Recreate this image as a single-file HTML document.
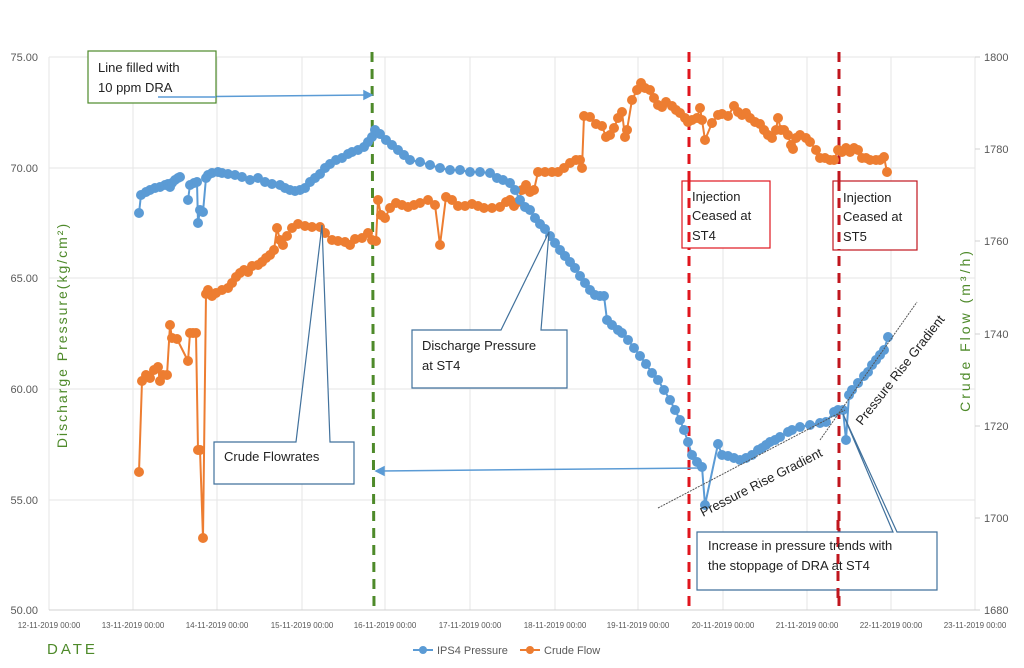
<!DOCTYPE html>
<html><head><meta charset="utf-8"><style>
body{margin:0;background:#fff;}
svg{display:block;font-family:"Liberation Sans",sans-serif;}
</style></head><body>
<svg width="1024" height="668" viewBox="0 0 1024 668">
<defs>
<marker id="mb" viewBox="0 0 10 10" refX="5" refY="5" markerWidth="10" markerHeight="10" markerUnits="userSpaceOnUse"><circle cx="5" cy="5" r="5" fill="#5b9bd5"/></marker>
<marker id="mo" viewBox="0 0 10 10" refX="5" refY="5" markerWidth="10" markerHeight="10" markerUnits="userSpaceOnUse"><circle cx="5" cy="5" r="5" fill="#ed7d31"/></marker>
</defs>
<g stroke="#e6e6e6" stroke-width="1">
<line x1="49" y1="57" x2="975" y2="57"/><line x1="49" y1="168" x2="975" y2="168"/><line x1="49" y1="278" x2="975" y2="278"/><line x1="49" y1="389" x2="975" y2="389"/><line x1="49" y1="500" x2="975" y2="500"/>
<line x1="49" y1="57" x2="49" y2="610"/><line x1="133" y1="57" x2="133" y2="610"/><line x1="217" y1="57" x2="217" y2="610"/><line x1="302" y1="57" x2="302" y2="610"/><line x1="385" y1="57" x2="385" y2="610"/><line x1="470" y1="57" x2="470" y2="610"/><line x1="555" y1="57" x2="555" y2="610"/><line x1="638" y1="57" x2="638" y2="610"/><line x1="723" y1="57" x2="723" y2="610"/><line x1="807" y1="57" x2="807" y2="610"/><line x1="891" y1="57" x2="891" y2="610"/><line x1="975" y1="57" x2="975" y2="610"/>
</g>
<line x1="49" y1="610" x2="975" y2="610" stroke="#d0d0d0"/>
<g stroke="#d0d0d0"><line x1="975" y1="57" x2="980" y2="57"/><line x1="975" y1="149" x2="980" y2="149"/><line x1="975" y1="241" x2="980" y2="241"/><line x1="975" y1="334" x2="980" y2="334"/><line x1="975" y1="426" x2="980" y2="426"/><line x1="975" y1="518" x2="980" y2="518"/><line x1="975" y1="610" x2="980" y2="610"/></g>
<g font-size="11" fill="#595959" text-anchor="end">
<text x="38" y="61">75.00</text><text x="38" y="172">70.00</text><text x="38" y="282">65.00</text><text x="38" y="393">60.00</text><text x="38" y="504">55.00</text><text x="38" y="614">50.00</text>
</g>
<g font-size="11" fill="#595959">
<text x="984" y="61">1800</text><text x="984" y="153">1780</text><text x="984" y="245">1760</text><text x="984" y="338">1740</text><text x="984" y="430">1720</text><text x="984" y="522">1700</text><text x="984" y="614">1680</text>
</g>
<g font-size="8" fill="#595959" text-anchor="middle">
<text x="49" y="628">12-11-2019 00:00</text><text x="133" y="628">13-11-2019 00:00</text><text x="217" y="628">14-11-2019 00:00</text><text x="302" y="628">15-11-2019 00:00</text><text x="385" y="628">16-11-2019 00:00</text><text x="470" y="628">17-11-2019 00:00</text><text x="555" y="628">18-11-2019 00:00</text><text x="638" y="628">19-11-2019 00:00</text><text x="723" y="628">20-11-2019 00:00</text><text x="807" y="628">21-11-2019 00:00</text><text x="891" y="628">22-11-2019 00:00</text><text x="975" y="628">23-11-2019 00:00</text>
</g>
<text x="47" y="654" font-size="15" fill="#4e8a2a" letter-spacing="3">DATE</text>
<text transform="translate(67,335) rotate(-90)" font-size="14" fill="#4e8a2a" text-anchor="middle" letter-spacing="2">Discharge Pressure(kg/cm²)</text>
<text transform="translate(970,330) rotate(-90)" font-size="14" fill="#4e8a2a" text-anchor="middle" letter-spacing="3">Crude Flow (m³/h)</text>
<line x1="372" y1="52" x2="374" y2="610" stroke="#4e8a2a" stroke-width="3" stroke-dasharray="10,7"/>
<line x1="689" y1="52" x2="689" y2="610" stroke="#e0161e" stroke-width="3" stroke-dasharray="10,7"/>
<line x1="839" y1="52" x2="839" y2="610" stroke="#c0161e" stroke-width="3" stroke-dasharray="10,7"/>
<polyline fill="none" stroke="#ed7d31" stroke-width="2" marker-start="url(#mo)" marker-mid="url(#mo)" marker-end="url(#mo)" points="139,472 142,381 146,375 150,378 154,370 158,367 160,381 163,375 167,375 170,325 172,338 177,339 188,361 190,333 193,333 196,333 198,450 200,450 203,538 206,294 208,290 212,296 216,293 222,290 228,288 232,283 236,277 240,273 244,270 248,272 252,266 258,265 262,262 266,258 270,255 274,250 277,228 280,240 283,245 287,236 292,228 298,224 305,226 312,227 320,227 325,233 332,240 338,241 345,242 350,245 355,239 362,238 368,233 372,240 376,241 378,200 381,215 385,218 390,208 396,203 402,205 408,207 414,205 420,203 428,200 435,205 440,245 446,197 452,200 458,206 465,206 472,204 478,206 484,208 492,208 500,207 506,202 510,200 514,206 518,202 522,190 526,185 530,192 534,190 538,172 545,172 552,172 558,172 564,168 570,163 576,160 580,160 582,168 584,116 590,117 596,124 602,126 606,137 610,135 614,128 618,118 622,112 625,137 627,130 632,100 637,90 641,83 645,88 650,90 654,98 658,105 662,107 666,102 672,106 676,110 680,113 685,118 688,122 692,120 697,118 700,108 702,120 705,140 712,123 718,115 722,114 728,116 734,106 738,112 742,115 746,113 750,118 755,122 760,124 764,130 768,135 772,138 776,130 778,118 781,130 784,130 788,135 791,145 793,149 796,138 800,135 806,138 810,142 816,150 820,158 825,158 830,160 834,160 838,150 842,152 846,148 850,152 854,148 858,150 862,158 866,158 870,160 876,160 880,160 884,157 887,172"/>
<g fill="none" stroke="#5b9bd5" stroke-width="2">
<polyline marker-start="url(#mb)" marker-mid="url(#mb)" marker-end="url(#mb)" points="139,213 141,195 146,192 150,190 155,188 160,187 165,185 168,184 170,187 172,183 175,180 178,178 180,177"/>
<polyline marker-start="url(#mb)" marker-mid="url(#mb)" marker-end="url(#mb)" points="188,200 190,185 194,183 197,182 198,223 200,210 203,212 206,178 208,175 212,173 218,172 222,173 228,174 235,175 242,177 250,180 258,178 265,182 272,184 280,185 285,188 290,190 295,191 300,190 305,188 310,182 315,178 320,174 325,168 330,164 336,160 342,158 348,154 352,152 358,150 364,147 368,142 372,137 375,130 380,134 386,140 392,145 398,150 404,155 410,160 420,162 430,165 440,168 450,170 460,170 470,172 480,172 490,173 497,178 503,180 510,183 515,190 520,200 525,207 530,210 535,218 540,224 545,229 550,236 555,243 560,250 565,256 570,262 575,268 580,276 585,283 590,290 595,295 600,296 604,296 607,320 612,325 618,330 622,333 628,340 634,348 640,356 646,364 652,373 658,380 664,390 670,400 675,410 680,420 684,430 688,442 692,455 697,462 702,467 705,505 718,444 722,455 728,456 734,458 740,460 746,458 752,455 758,450 762,448 766,445 770,442 775,440 780,437 788,432 792,430 800,427 810,425 820,423 826,422 834,412 838,410 843,410 846,440 849,395 852,390 858,383 864,376 868,372 872,365 876,360 880,355 884,350 888,337"/>
</g>
<line x1="658" y1="508" x2="845" y2="410" stroke="#555" stroke-width="1" stroke-dasharray="2,1"/>
<line x1="820" y1="440" x2="917" y2="302" stroke="#555" stroke-width="1" stroke-dasharray="2,1"/>
<text transform="translate(703,517) rotate(-27)" font-size="13" fill="#222">Pressure Rise  Gradient</text>
<text transform="translate(862,426) rotate(-52)" font-size="13" fill="#222">Pressure Rise  Gradient</text>
<g fill="none" stroke="#5b9bd5" stroke-width="1.5">
<line x1="158" y1="97" x2="368" y2="95"/><polygon points="372,95 364,91 364,99" fill="#5b9bd5"/>
<line x1="700" y1="468" x2="380" y2="471"/><polygon points="376,471 384,467 384,475" fill="#5b9bd5"/>
</g>
<g fill="#fff" stroke="#41719c" stroke-width="1.2">
<path d="M214,442 H296 L322,225 L330,442 H354 V484 H214 Z"/>
<path d="M412,330 H501 L549,232 L541,330 H567 V388 H412 Z"/>
<path d="M697,532 H893 L843,414 L897,532 H937 V590 H697 Z"/>
</g>
<line x1="838" y1="520" x2="838" y2="600" stroke="#c0161e" stroke-width="3" stroke-dasharray="10,7"/>
<rect x="88" y="51" width="128" height="52" fill="#fff" stroke="#4e8a2a" stroke-width="1.2"/>
<line x1="158" y1="97" x2="216" y2="97" stroke="#5b9bd5" stroke-width="1.5"/>
<rect x="682" y="181" width="88" height="67" fill="#fff" stroke="#e0161e" stroke-width="1.2"/>
<rect x="833" y="181" width="84" height="69" fill="#fff" stroke="#c0161e" stroke-width="1.2"/>
<line x1="689" y1="181" x2="689" y2="250" stroke="#e0161e" stroke-width="3" stroke-dasharray="10,7"/>
<line x1="839" y1="181" x2="839" y2="250" stroke="#c0161e" stroke-width="3" stroke-dasharray="10,7"/>
<g font-size="13" fill="#222">
<text x="98" y="72">Line filled with</text><text x="98" y="92">10 ppm DRA</text>
<text x="224" y="461">Crude Flowrates</text>
<text x="422" y="350">Discharge Pressure</text><text x="422" y="370">at ST4</text>
<text x="692" y="201">Injection</text><text x="692" y="220">Ceased at</text><text x="692" y="240">ST4</text>
<text x="843" y="202">Injection</text><text x="843" y="221">Ceased at</text><text x="843" y="241">ST5</text>
<text x="708" y="550">Increase in pressure trends with</text><text x="708" y="570">the stoppage of DRA at ST4</text>
</g>
<line x1="413" y1="650" x2="433" y2="650" stroke="#5b9bd5" stroke-width="2"/><circle cx="423" cy="650" r="4" fill="#5b9bd5"/>
<text x="437" y="654" font-size="11" fill="#595959">IPS4 Pressure</text>
<line x1="520" y1="650" x2="540" y2="650" stroke="#ed7d31" stroke-width="2"/><circle cx="530" cy="650" r="4" fill="#ed7d31"/>
<text x="544" y="654" font-size="11" fill="#595959">Crude Flow</text>
</svg>
</body></html>
